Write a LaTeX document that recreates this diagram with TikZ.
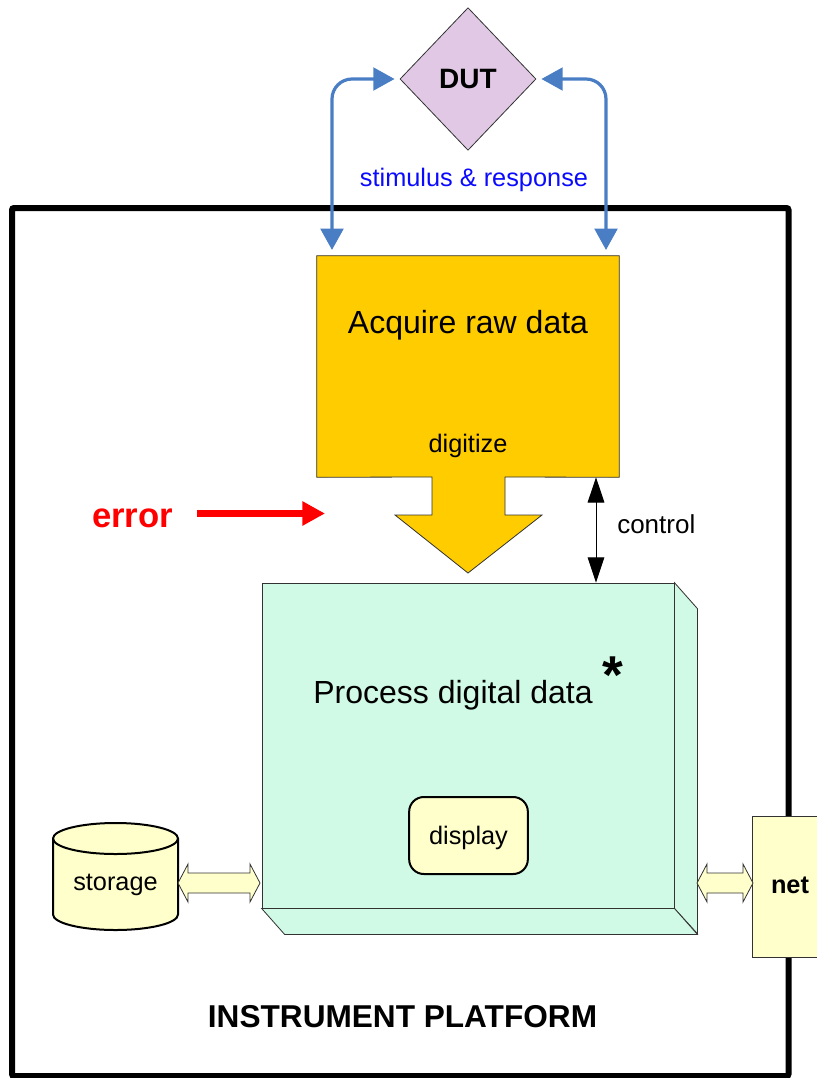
\documentclass[tikz,border=0pt]{standalone}
\usepackage{fontspec}
\setmainfont{Liberation Sans}
\usetikzlibrary{arrows.meta,calc,shapes.geometric}

\definecolor{dutfill}{RGB}{225,201,230}
\definecolor{gold}{RGB}{255,204,0}
\definecolor{mint}{RGB}{208,250,230}
\definecolor{cream}{RGB}{255,255,204}
\definecolor{linkblue}{RGB}{74,126,196}
\definecolor{labelblue}{RGB}{10,10,255}
\definecolor{edge}{RGB}{50,50,50}

\newcommand\fsz[1]{\fontsize{#1}{#1}\selectfont}
% two-headed block arrow between x=#1 and x=#2 at height #3
\newcommand\bidiarrow[3]{%
  \filldraw[blockarrow] (#1,#3) -- (#1+10,#3-19) -- (#1+10,#3-10) -- (#2-10,#3-10)
    -- (#2-10,#3-19) -- (#2,#3) -- (#2-10,#3+19) -- (#2-10,#3+10)
    -- (#1+10,#3+10) -- (#1+10,#3+19) -- cycle;}

\begin{document}
\begin{tikzpicture}[x=0.75pt,y=-0.75pt,
  txt/.style={inner sep=0pt, anchor=base},
  thinedge/.style={draw=edge, line width=0.6pt},
  link/.style={draw=linkblue, line width=2.4pt, rounded corners=15pt,
    {Triangle[length=16pt,width=17pt]}-{Triangle[length=16pt,width=17pt]},
    shorten <=3.75pt, shorten >=4.5pt},
  ctrl/.style={draw=black, line width=0.75pt,
    {Triangle[length=19pt,width=12.5pt]}-{Triangle[length=19pt,width=12.5pt]}},
  errarrow/.style={draw=red, line width=5.25pt,
    -{Triangle[length=17pt,width=17.25pt]}},
  blockarrow/.style={thinedge, fill=cream},
  box3d/.style={thinedge, fill=mint}]

\useasboundingbox (0,0) rectangle (817,1078);
\clip (0,0) rectangle (817,1078);

% platform frame
\draw[line width=4.5pt, rounded corners=1.5pt] (12,208) rectangle (788.5,1076);

% device under test
\node[diamond, thinedge, fill=dutfill, minimum width=102pt, minimum height=107pt,
  inner sep=0pt, font=\fsz{21pt}\bfseries] (dut) at (468,79) {DUT};

% acquisition block with its digitize arrow
\node[minimum width=226.5pt, minimum height=165.75pt, inner sep=0pt] (acq) at (468,366.5) {};
\filldraw[thinedge, fill=gold] (acq.north west) -- (acq.north east) -- (acq.south east)
  -- (505,477) -- (505,515) -- (542,515) -- (468,573) -- (395,515) -- (432,515)
  -- (432,477) -- (acq.south west) -- cycle;
\node[txt, font=\fsz{24pt}] (acqlabel) at (468,333) {Acquire raw data};
\node[txt, font=\fsz{19pt}] (dig) at (468,452) {digitize};

% stimulus and response links
\coordinate (inL) at (332,256);
\coordinate (inR) at (606,256);
\draw[link] (dut.west) -| (inL);
\draw[link] (dut.east) -| (inR);
\node[txt, font=\fsz{19pt}, text=labelblue] (stim) at (474,186) {stimulus \& response};

% processing block (extruded box)
\node[box3d, minimum width=309pt, minimum height=243.75pt, inner sep=0pt] (proc) at (468,745.5) {};
\filldraw[box3d] (proc.north east) -- ++(23,26) -- ++(0,325) -- (proc.south east) -- cycle;
\filldraw[box3d] (proc.south west) -- (proc.south east) -- ++(23,26)
  -- ($(proc.south west)+(23,26)$) -- cycle;
\node[txt, font=\fsz{24pt}] (proclabel) at (453,703) {Process digital data};
\node[txt, font=\fsz{40pt}\bfseries] (star) at (613,693) {*};

% display
\node[draw=black, fill=cream, line width=1.5pt, rounded corners=11pt,
  minimum width=89pt, minimum height=57.75pt, inner sep=0pt] (disp) at (468.5,835.5) {};
\node[txt, font=\fsz{19pt}] (displabel) at (468.5,844) {display};

% control link
\coordinate (ctl) at (596,530);
\draw[ctrl] (acq.south -| ctl) -- (proc.north -| ctl);
\node[txt, anchor=base west, font=\fsz{19.5pt}] (ctllabel) at (617,533) {control};

% error injection
\node[txt, font=\fsz{26pt}\bfseries, text=red] (err) at (132.5,527) {error};
\coordinate (errtip) at (325,513.5);
\draw[errarrow, shorten <=18pt] (err.east |- errtip) -- (errtip);

% storage cylinder
\node[minimum width=93.75pt, minimum height=80.25pt, inner sep=0pt] (stor) at (115.5,876.5) {};
\filldraw[fill=cream, draw=black, line width=1.5pt] (53,838.5) -- (53,914.5)
  arc[start angle=180, end angle=360, x radius=46.875pt, y radius=11.625pt]
  -- (178,838.5)
  arc[start angle=0, end angle=180, x radius=46.875pt, y radius=11.625pt] -- cycle;
\draw[black, line width=1.5pt] (53,838.5)
  arc[start angle=180, end angle=360, x radius=46.875pt, y radius=11.625pt];
\node[txt, font=\fsz{19pt}] (storlabel) at (115.5,890) {storage};

% network port
\node[thinedge, fill=cream, anchor=north west, minimum width=60pt, minimum height=105.75pt,
  inner sep=0pt] (net) at (752,816) {};
\node[txt, font=\fsz{19pt}\bfseries] (netlabel) at (790,893) {net};

% data paths
\bidiarrow{178}{260}{883}
\bidiarrow{697}{753}{883}

% platform caption
\node[txt, font=\fsz{23.7pt}\bfseries] (plat) at (402.5,1027) {INSTRUMENT PLATFORM};
\end{tikzpicture}
\end{document}
